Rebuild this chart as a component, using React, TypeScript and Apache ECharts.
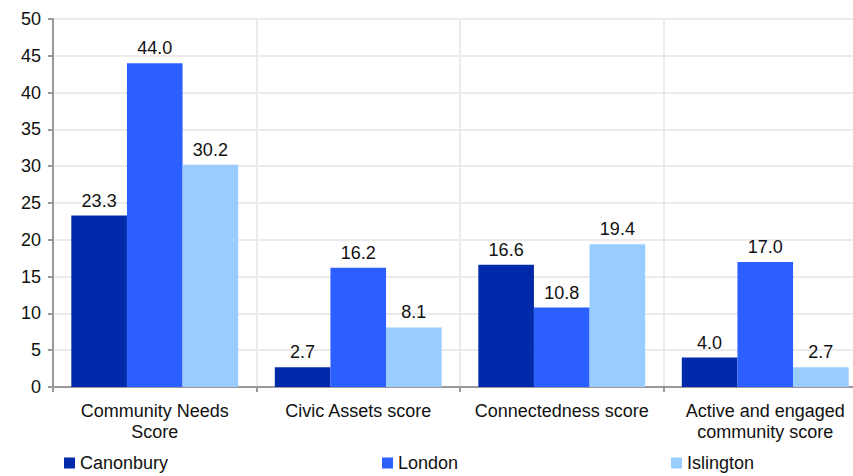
import React, { useEffect, useRef } from "react";
import * as echarts from "echarts";

const categories = [
  "Community Needs\nScore",
  "Civic Assets score",
  "Connectedness score",
  "Active and engaged\ncommunity score",
];
const seriesNames = ["Canonbury", "London", "Islington"];
const canonbury = [23.3, 2.7, 16.6, 4.0];
const london = [44.0, 16.2, 10.8, 17.0];
const islington = [30.2, 8.1, 19.4, 2.7];
const colors = ["#002aaa", "#2b5fff", "#99ccff"];
const legendLefts = [64, 382, 671];

const FONT = 'Arial, "Liberation Sans", sans-serif';

export default function App() {
  const ref = useRef<HTMLDivElement>(null);
  useEffect(() => {
    if (!ref.current) return;
    const chart = echarts.init(ref.current, null, { renderer: "svg" });
    const values = [canonbury, london, islington];
    chart.setOption({
      animation: false,
      textStyle: { fontFamily: FONT },
      grid: { left: 53, right: 0, top: 19, bottom: 89, containLabel: false },
      legend: seriesNames.map((n, i) => ({
        data: [n],
        left: legendLefts[i],
        top: 454,
        padding: 0,
        itemWidth: 11,
        itemHeight: 11,
        itemGap: 8,
        icon: "rect",
        textStyle: { fontSize: 18, color: "#111", fontFamily: FONT, padding: [0, 0, 0, 0] },
        selectedMode: false,
      })),
      xAxis: {
        type: "category",
        data: categories,
        axisLine: { lineStyle: { color: "#999", width: 2 } },
        axisTick: { show: true, length: 5, lineStyle: { color: "#999", width: 2 } },
        splitLine: { show: true, lineStyle: { color: "#ebebeb", width: 2 } },
        axisLabel: {
          fontSize: 18,
          color: "#111",
          lineHeight: 21,
          margin: 13,
          fontFamily: FONT,
          interval: 0,
        },
      },
      yAxis: {
        type: "value",
        min: 0,
        max: 50,
        interval: 5,
        axisLine: { show: true, lineStyle: { color: "#999", width: 2 } },
        axisTick: { show: true, length: 5, lineStyle: { color: "#999", width: 2 } },
        splitLine: { show: true, lineStyle: { color: "#ebebeb", width: 2 } },
        axisLabel: { fontSize: 18, color: "#111", margin: 12, fontFamily: FONT },
      },
      series: seriesNames.map((n, i) => ({
        name: n,
        type: "bar",
        data: values[i],
        barGap: "0%",
        barCategoryGap: "18%",
        itemStyle: { color: colors[i] },
        label: {
          show: true,
          position: "top",
          distance: 6,
          fontSize: 18,
          color: "#111",
          fontFamily: FONT,
          formatter: (p: any) => Number(p.value).toFixed(1),
        },
      })),
    });
    return () => chart.dispose();
  }, []);
  return (
    <div
      style={{
        position: "fixed",
        left: 0,
        top: 0,
        width: 853,
        height: 476,
        overflow: "hidden",
        background: "#fff",
      }}
    >
      <div ref={ref} style={{ width: 867, height: 476 }} />
    </div>
  );
}
